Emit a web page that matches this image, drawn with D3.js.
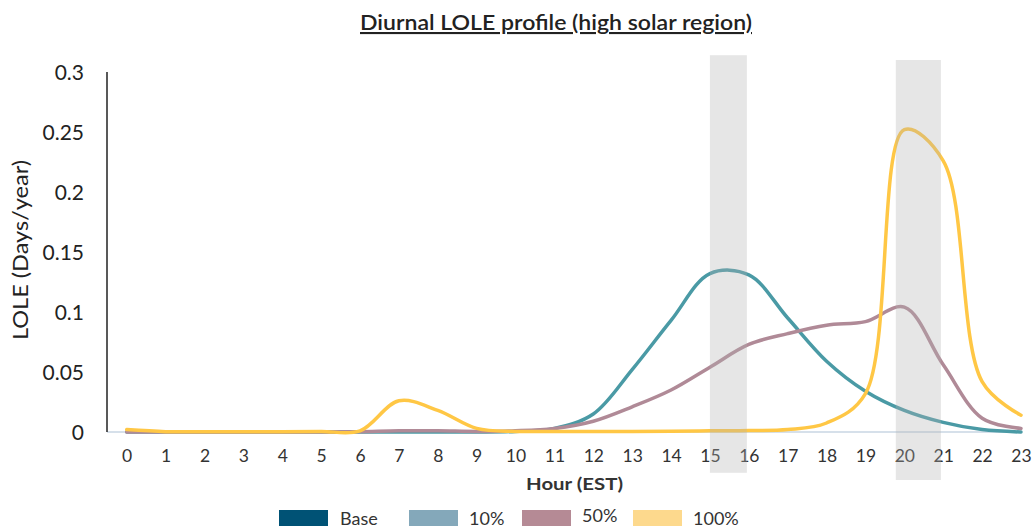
<!DOCTYPE html>
<html>
<head>
<meta charset="utf-8">
<script src="https://cdn.jsdelivr.net/npm/d3@7"></script>
<style>
  html, body { margin: 0; padding: 0; background: #ffffff; }
  svg { display: block; font-family: Lato, "Open Sans", sans-serif; }
</style>
</head>
<body>
<svg id="chart" width="1034" height="529"></svg>
<script>
// ---- data ----
const hours = d3.range(0, 24);
const hourLabels = hours.map(String);
const yTicks = [0, 0.05, 0.1, 0.15, 0.2, 0.25, 0.3];
const yTickLabels = ["0", "0.05", "0.1", "0.15", "0.2", "0.25", "0.3"];

const series10 = [0, 0, 0, 0, 0, 0, 0, 0, 0, 0, 0.0005, 0.003, 0.015, 0.052, 0.093, 0.132, 0.131, 0.095, 0.059, 0.034, 0.018, 0.008, 0.002, 0];
const series50 = [0, 0, 0, 0, 0, 0, 0.0003, 0.001, 0.001, 0.0005, 0.001, 0.003, 0.009, 0.021, 0.035, 0.054, 0.073, 0.082, 0.089, 0.092, 0.104, 0.056, 0.0115, 0.003];
const series100 = [0.002, 0.0003, 0.0002, 0.0003, 0.0003, 0.0005, 0.001, 0.026, 0.018, 0.003, 0.0005, 0.0005, 0.0005, 0.0005, 0.0007, 0.001, 0.0012, 0.002, 0.0075, 0.032, 0.252, 0.226, 0.042, 0.014];

const legendNames = ["Base", "10%", "50%", "100%"];
const legendColors = ["#005275", "#84a8ba", "#b58a95", "#fdd98d"];
const lineSeries = [
  { name: "10%", values: series10, color: "#4a9aa5" },
  { name: "50%", values: series50, color: "#b08a97" },
  { name: "100%", values: series100, color: "#ffc745" }
];
// highlighted hour windows: [startHour, endHour, topValue, bottomValue]
const bands = [
  [15.0, 15.95, 0.314, -0.034],
  [19.78, 20.94, 0.31, -0.04]
];

const titleText = "Diurnal LOLE profile (high solar region)";
const xTitle = "Hour (EST)";
const yTitle = "LOLE (Days/year)";

// ---- layout ----
const svg = d3.select("#chart");
const x = d3.scaleLinear().domain([0, 23]).range([126.7, 1021]);
const y = d3.scaleLinear().domain([0, 0.3]).range([432, 72]);
const axisLeftX = 107;

// title
svg.append("text")
  .attr("x", 360).attr("y", 30)
  .attr("textLength", 392).attr("lengthAdjust", "spacingAndGlyphs")
  .style("font-size", "21px").style("font-weight", "600")
  .style("fill", "#222")
  .style("text-decoration", "underline")
  .text(titleText);

// x axis baseline
svg.append("line")
  .attr("x1", axisLeftX).attr("x2", x(23))
  .attr("y1", y(0)).attr("y2", y(0))
  .attr("stroke", "#c9d6e3").attr("stroke-width", 1.5);

// x axis tick labels
const xAxis = d3.axisBottom(x).tickValues(hours).tickFormat((d, i) => hourLabels[i]).tickSize(0).tickPadding(0);
const gx = svg.append("g").attr("transform", `translate(0,${y(0)})`).call(xAxis);
gx.select(".domain").remove();
gx.selectAll("text")
  .attr("y", 29.7).attr("dy", null)
  .style("font-family", "Lato, sans-serif")
  .style("font-size", "17.5px").style("fill", "#333");

// y axis
const yAxis = d3.axisLeft(y).tickValues(yTicks).tickFormat((d, i) => yTickLabels[i]).tickSize(0).tickPadding(0);
const gy = svg.append("g").attr("transform", `translate(${axisLeftX},0)`).call(yAxis);
gy.select(".domain").remove();
gy.selectAll("text")
  .attr("x", -23).attr("dy", "0.36em")
  .style("font-family", "Lato, sans-serif")
  .style("font-size", "21px").style("fill", "#222");
svg.append("line")
  .attr("x1", axisLeftX).attr("x2", axisLeftX)
  .attr("y1", y(0.3)).attr("y2", y(0))
  .attr("stroke", "#222").attr("stroke-width", 1.5);

// axis titles
svg.append("text")
  .attr("transform", `translate(28,${340}) rotate(-90)`)
  .attr("textLength", 180).attr("lengthAdjust", "spacingAndGlyphs")
  .style("font-size", "21px").style("fill", "#222")
  .text(yTitle);
svg.append("text")
  .attr("x", 526).attr("y", 490)
  .attr("textLength", 97).attr("lengthAdjust", "spacingAndGlyphs")
  .style("font-size", "17px").style("font-weight", "700").style("fill", "#333")
  .text(xTitle);

// lines
const line = d3.line()
  .x((d, i) => x(hours[i]))
  .y(d => y(d))
  .curve(d3.curveCatmullRom.alpha(0.5));
svg.append("g").selectAll("path")
  .data(lineSeries).enter().append("path")
  .attr("d", d => line(d.values))
  .attr("fill", "none")
  .attr("stroke", d => d.color)
  .attr("stroke-width", 3.5)
  .attr("stroke-linecap", "round")
  .attr("stroke-linejoin", "round");

// highlight bands (drawn over the lines, translucent)
svg.append("g").selectAll("rect")
  .data(bands).enter().append("rect")
  .attr("x", d => x(d[0]))
  .attr("width", d => x(d[1]) - x(d[0]))
  .attr("y", d => y(d[2]))
  .attr("height", d => y(d[3]) - y(d[2]))
  .attr("fill", "#b0b0b0").attr("fill-opacity", 0.32);

// legend
const legendX = [279, 409, 522, 633];
const lg = svg.append("g").selectAll("g")
  .data(legendNames).enter().append("g")
  .attr("transform", (d, i) => `translate(${legendX[i]},510)`);
lg.append("rect")
  .attr("width", 49).attr("height", 16)
  .attr("fill", (d, i) => legendColors[i]);
lg.append("text")
  .attr("x", (d, i) => i === 0 ? 61 : 60)
  .attr("y", (d, i) => i === 2 ? 12 : 15)
  .style("font-size", "18px").style("fill", "#333")
  .text(d => d);
</script>
</body>
</html>
